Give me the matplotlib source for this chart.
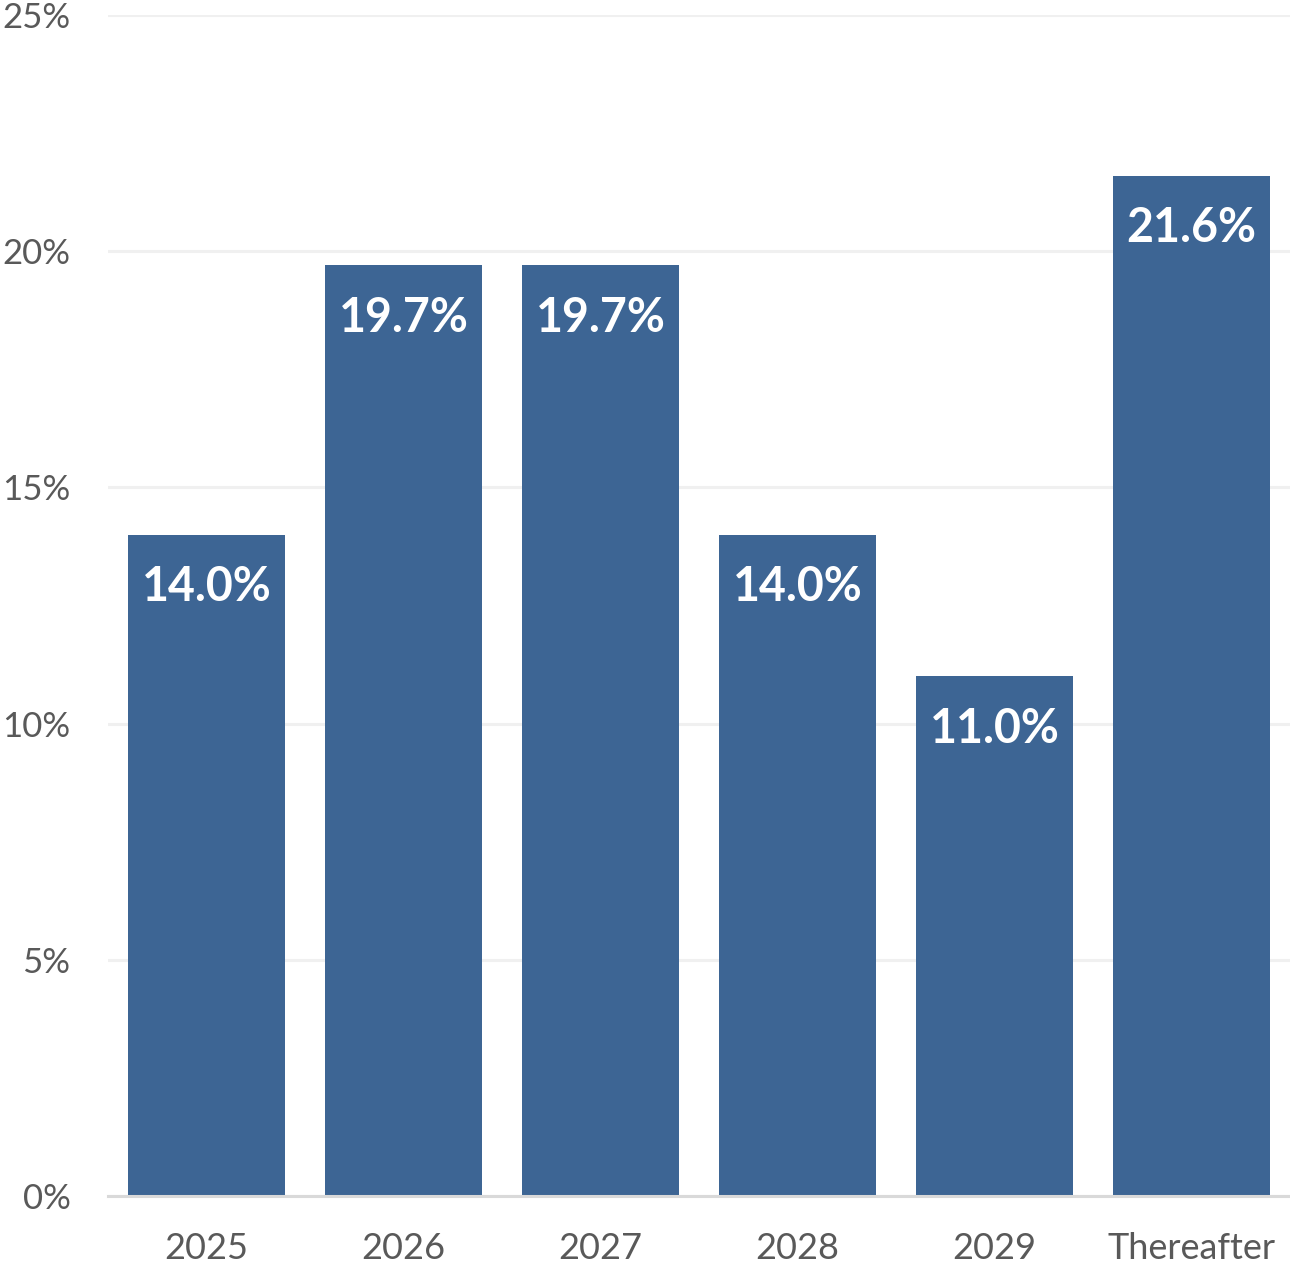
import matplotlib
matplotlib.use("Agg")
import matplotlib.pyplot as plt
from matplotlib.ticker import FuncFormatter

categories = ["2025", "2026", "2027", "2028", "2029", "Thereafter"]
values = [14.0, 19.7, 19.7, 14.0, 11.0, 21.6]
yticks = [0, 5, 10, 15, 20, 25]

plt.rcParams['font.family'] = ['Lato', 'DejaVu Sans']

fig = plt.figure(figsize=(12.9, 12.64), dpi=100)
ax = fig.add_axes([108/1290, 68/1264, 1182/1290, 1181/1264])

x = list(range(len(categories)))
bars = ax.bar(x, values, width=0.8, color="#3D6594", zorder=3)

for xi, v in zip(x, values):
    ax.annotate(f"{v:.1f}%", xy=(xi, v), xytext=(0, -38), textcoords="offset points",
                ha="center", va="center", color="white", fontsize=33.5, fontweight="bold", zorder=4)

ax.set_xlim(-0.5, len(categories) - 0.5)
ax.set_ylim(0, 25)
ax.set_yticks(yticks)
ax.yaxis.set_major_formatter(FuncFormatter(lambda v, p: f"{v:.0f}%"))
ax.set_xticks(x)
ax.set_xticklabels(categories)

ax.grid(axis="y", color="#F0F0F0", linewidth=2.2, zorder=0)
ax.set_axisbelow(True)
for s in ["top", "right", "left"]:
    ax.spines[s].set_visible(False)
ax.spines["bottom"].set_color("#D9D9D9")
ax.spines["bottom"].set_linewidth(2.2)
ax.spines["bottom"].set_zorder(5)

ax.tick_params(axis="both", length=0, labelcolor="#595959")
ax.tick_params(axis="x", labelsize=26, pad=26)
ax.tick_params(axis="y", labelsize=25, pad=27)

fig.savefig("out.png", dpi=100)
